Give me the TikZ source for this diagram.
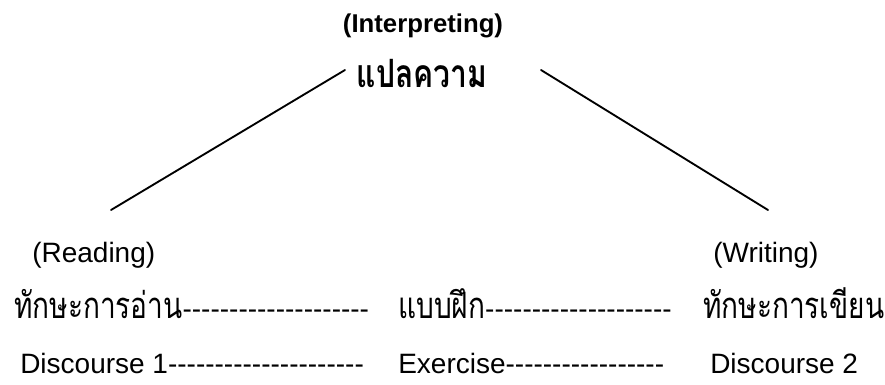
\documentclass[tikz,border=0pt]{standalone}
\usepackage{fontspec}
\setmainfont{Liberation Sans}[Ligatures=TeXOff]
\newfontfamily\thaifont[Script=Thai]{Loma}
\newcommand{\thaitxt}[1]{\scalebox{1}[1.3]{\thaifont #1}}
\begin{document}
\begin{tikzpicture}[x=0.75pt,y=-0.75pt,
  txt/.style={inner sep=0pt,anchor=base west,font=\fontsize{21}{25}\selectfont},
  ttl/.style={inner sep=0pt,anchor=base,font=\fontsize{19.3}{23}\selectfont\bfseries},
  link/.style={line width=1.4pt,line cap=round}]
\useasboundingbox (0,0) rectangle (885,385);
\node[ttl] (interp) at (423,33) {(Interpreting)};
\node[ttl,font=\fontsize{22.5}{26}\selectfont\bfseries] (plaek) at (422,88) {\thaitxt{แปลความ}};
\coordinate (ltop) at (345,70);
\coordinate (lbot) at (111,210);
\coordinate (rtop) at (541,70);
\coordinate (rbot) at (768,210);
\draw[link] (ltop) -- (lbot);
\draw[link] (rtop) -- (rbot);
\node[txt] (read) at (32,262) {(Reading)};
\node[txt] (write) at (713,262) {(Writing)};
\node[txt] (r2a) at (14,318) {\thaitxt{ทักษะการอ่าน}--------------------};
\node[txt] (r2b) at (398,318) {\thaitxt{แบบฝึก}--------------------};
\node[txt] (r2c) at (703,318) {\thaitxt{ทักษะการเขียน}};
\node[txt] (r3a) at (20,373) {Discourse 1---------------------};
\node[txt] (r3b) at (398,373) {Exercise-----------------};
\node[txt] (r3c) at (710,373) {Discourse 2};
\end{tikzpicture}
\end{document}
